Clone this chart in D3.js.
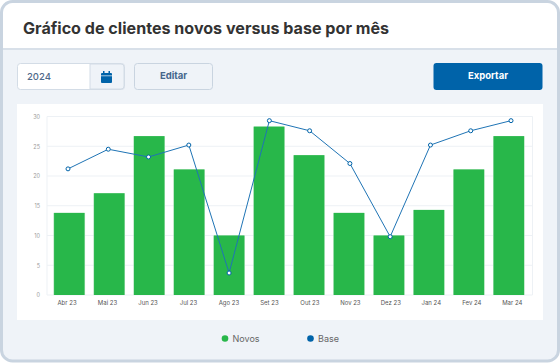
<!DOCTYPE html>
<html>
<head>
<meta charset="utf-8">
<script src="https://cdn.jsdelivr.net/npm/d3@7"></script>
<style>
  html, body { margin: 0; padding: 0; background: #fff; }
  svg { display: block; font-family: Inter, "Noto Sans", sans-serif; }
</style>
</head>
<body>
<div id="chart"></div>
<script>
// values
const months = ["Abr 23","Mai 23","Jun 23","Jul 23","Ago 23","Set 23","Out 23","Nov 23","Dez 23","Jan 24","Fev 24","Mar 24"];
const novos = [13.8,17.1,26.7,21.1,10,28.3,23.5,13.8,10,14.3,21.1,26.7];
const base = [21.2,24.5,23.2,25.2,3.7,29.3,27.6,22.1,9.8,25.2,27.6,29.3];
const yTicks = [0,5,10,15,20,25,30];

const width = 560, height = 363;
const green = "#28b74a", blue = "#0063a9";

const svg = d3.select("#chart").append("svg")
  .attr("width", width)
  .attr("height", height);

// card frame
svg.append("rect")
  .attr("x", 1.5).attr("y", 1.5)
  .attr("width", 557).attr("height", 359.5)
  .attr("rx", 11)
  .attr("fill", "#eff3f8")
  .attr("stroke", "#c9d4e0")
  .attr("stroke-width", 3);

// white title band
svg.append("path")
  .attr("d", "M3,48 V13 a10,10 0 0 1 10,-10 H547 a10,10 0 0 1 10,10 V48 Z")
  .attr("fill", "#fff");
svg.append("rect")
  .attr("x", 3).attr("y", 48).attr("width", 554).attr("height", 2)
  .attr("fill", "#d8e0e9");

svg.append("text")
  .attr("x", 23).attr("y", 34)
  .attr("font-size", 16.1)
  .attr("font-weight", 700)
  .attr("fill", "#333")
  .text("Gráfico de clientes novos versus base por mês");

// year field
svg.append("rect")
  .attr("x", 17.5).attr("y", 63.5).attr("width", 107).attr("height", 26).attr("rx", 3)
  .attr("fill", "#fff").attr("stroke", "#d3dce6");
svg.append("path")
  .attr("d", "M90,64 H121 a3,3 0 0 1 3,3 V86 a3,3 0 0 1 -3,3 H90 Z")
  .attr("fill", "#eff3f8").attr("stroke", "#d3dce6");
svg.append("text")
  .attr("x", 27).attr("y", 80)
  .attr("font-size", 9.5)
  .attr("font-weight", 500)
  .attr("fill", "#4f6a8a")
  .text("2024");

// calendar icon
const cal = svg.append("g").attr("fill", blue);
cal.append("rect").attr("x", 101).attr("y", 73).attr("width", 11).attr("height", 10).attr("rx", 1);
cal.append("rect").attr("x", 103).attr("y", 71).attr("width", 1.5).attr("height", 3);
cal.append("rect").attr("x", 108.5).attr("y", 71).attr("width", 1.5).attr("height", 3);
cal.append("rect").attr("x", 101).attr("y", 75.5).attr("width", 11).attr("height", 0.7).attr("fill", "#eff3f8");

// Editar button
svg.append("rect")
  .attr("x", 134.5).attr("y", 63.5).attr("width", 78).attr("height", 26).attr("rx", 3)
  .attr("fill", "#eff3f8").attr("stroke", "#c9d4e0");
svg.append("text")
  .attr("x", 173.5).attr("y", 79)
  .attr("text-anchor", "middle")
  .attr("font-size", 9.5)
  .attr("font-weight", 700)
  .attr("fill", "#46668c")
  .text("Editar");

// Exportar button
svg.append("rect")
  .attr("x", 433.5).attr("y", 63).attr("width", 109).attr("height", 27).attr("rx", 3)
  .attr("fill", blue);
svg.append("text")
  .attr("x", 488).attr("y", 79)
  .attr("text-anchor", "middle")
  .attr("font-size", 9.5)
  .attr("font-weight", 700)
  .attr("fill", "#fff")
  .text("Exportar");

// chart panel
svg.append("rect")
  .attr("x", 17).attr("y", 104).attr("width", 526).attr("height", 216)
  .attr("fill", "#fff");

// scales
// bars, line and axis labels don't share the same spread in the picture
const x = d3.scaleBand()
  .domain(months)
  .range([49.3, 528.8])
  .paddingInner(0.24)
  .paddingOuter(0.12);

const xLabels = d3.scaleBand()
  .domain(months)
  .range([46.8, 532.5]);

const xLine = d3.scalePoint()
  .domain(months)
  .range([68, 511]);

const y = d3.scaleLinear()
  .domain([0, 30])
  .range([295, 116.5]);

// grid
const grid = svg.append("g").attr("class", "grid");
grid.selectAll("line")
  .data(yTicks)
  .join("line")
  .attr("x1", 47).attr("x2", 532.5)
  .attr("y1", d => y(d)).attr("y2", d => y(d))
  .attr("stroke", "#edf1f5");
grid.append("line")
  .attr("x1", 47).attr("x2", 47)
  .attr("y1", y(30)).attr("y2", y(0))
  .attr("stroke", "#edf1f5");
grid.append("line")
  .attr("x1", 532.5).attr("x2", 532.5)
  .attr("y1", y(30)).attr("y2", y(0))
  .attr("stroke", "#edf1f5");

// bars, with the pale edge only on the sides
svg.append("g").selectAll("rect")
  .data(months)
  .join("rect")
  .attr("x", d => x(d) - 0.6)
  .attr("y", (d, i) => y(novos[i]))
  .attr("width", x.bandwidth() + 1.2)
  .attr("height", (d, i) => y(0) - y(novos[i]))
  .attr("fill", "#a6dfb4");

svg.append("g").selectAll("rect")
  .data(months)
  .join("rect")
  .attr("x", d => x(d))
  .attr("y", (d, i) => y(novos[i]))
  .attr("width", x.bandwidth())
  .attr("height", (d, i) => y(0) - y(novos[i]))
  .attr("fill", green);

// axes
const yAxis = d3.axisLeft(y).tickValues(yTicks).tickSize(0).tickPadding(7);
const gy = svg.append("g")
  .attr("transform", "translate(47,0)")
  .call(yAxis);
gy.select(".domain").remove();
gy.selectAll("text")
  .attr("font-family", "Inter")
  .attr("font-size", 5.5)
  .attr("fill", "#9a9a9a");

const xAxis = d3.axisBottom(xLabels).tickSize(0).tickPadding(5.5);
const gx = svg.append("g")
  .attr("transform", "translate(0,295)")
  .call(xAxis);
gx.select(".domain").remove();
gx.selectAll("text")
  .attr("font-family", "Inter")
  .attr("font-size", 6)
  .attr("fill", "#555");

// line
const line = d3.line()
  .x((d, i) => xLine(months[i]))
  .y(d => y(d));

svg.append("path")
  .attr("d", line(base))
  .attr("fill", "none")
  .attr("stroke", "#1f74b5")
  .attr("stroke-width", 1);

svg.append("g").selectAll("circle")
  .data(base)
  .join("circle")
  .attr("cx", (d, i) => xLine(months[i]))
  .attr("cy", d => y(d))
  .attr("r", 2)
  .attr("fill", "#fff")
  .attr("stroke", blue)
  .attr("stroke-width", 1);

// legend
const legendItems = [["Novos", green, 225], ["Base", blue, 310.5]];
const legend = svg.append("g").selectAll("g")
  .data(legendItems)
  .join("g")
  .attr("transform", d => "translate(" + d[2] + ",338.5)");
legend.append("circle").attr("r", 3.3).attr("fill", d => d[1]);
legend.append("text")
  .attr("x", 7.5).attr("y", 3.3)
  .attr("font-size", 9)
  .attr("fill", "#666")
  .text(d => d[0]);
</script>
</body>
</html>
